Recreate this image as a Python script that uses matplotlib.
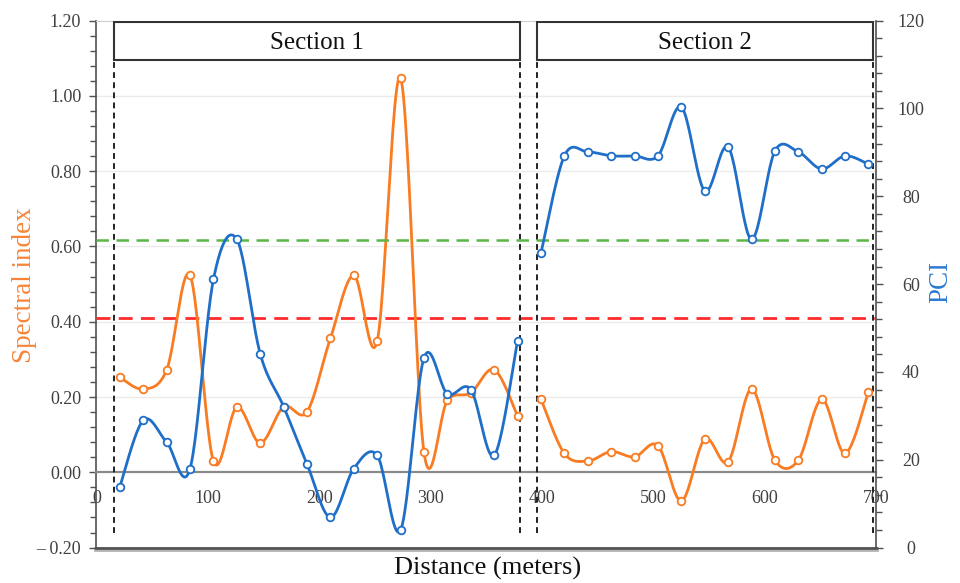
import numpy as np
import matplotlib.pyplot as plt
from matplotlib.ticker import MultipleLocator, FuncFormatter
from matplotlib.patches import Rectangle

plt.rcParams['font.family'] = ['Liberation Serif', 'DejaVu Serif']

# distances of the survey points (m)
dist_s1 = [21, 42, 63, 84, 105, 126, 147, 168, 189, 210, 231, 252, 273, 294, 315, 336, 357, 378]
dist_s2 = [399, 420, 441, 462, 483, 504, 525, 546, 567, 588, 609, 630, 651, 672, 693]

# spectral index (left axis)
spec_s1 = [0.252, 0.221, 0.272, 0.523, 0.030, 0.173, 0.078, 0.174, 0.161,
           0.356, 0.523, 0.349, 1.047, 0.053, 0.191, 0.211, 0.273, 0.150]
spec_s2 = [0.194, 0.050, 0.030, 0.055, 0.041, 0.071, -0.076, 0.088,
           0.028, 0.221, 0.032, 0.032, 0.194, 0.050, 0.214]

# PCI (right axis)
pci_s1 = [13.9, 29.0, 24.0, 18.0, 61.1, 70.2, 44.1, 32.1, 19.0,
          6.9, 18.0, 21.0, 4.0, 43.2, 35.0, 36.0, 21.0, 47.1]
pci_s2 = [67.1, 89.2, 90.1, 89.2, 89.2, 89.2, 100.3, 81.2,
          91.2, 70.2, 90.3, 90.1, 86.2, 89.2, 87.3]

spec_threshold = 0.41
pci_threshold = 70

sections = ['Section 1', 'Section 2']
section_bounds = [(15.7, 380.2), (395.4, 697.3)]

orange = '#F97B22'
blue = '#1F6FC8'
grey_txt = '#404040'


def smooth(x, y, n=24):
    # Catmull-Rom style smoothing, like a spreadsheet "smoothed line"
    x = np.asarray(x, float)
    y = np.asarray(y, float)
    xs, ys = [], []
    m = len(x)
    for i in range(m - 1):
        i0 = max(i - 1, 0)
        i3 = min(i + 2, m - 1)
        t = np.linspace(0, 1, n, endpoint=(i == m - 2))
        for arr, out in ((x, xs), (y, ys)):
            p0, p1, p2, p3 = arr[i0], arr[i], arr[i + 1], arr[i3]
            out.extend(0.5 * (2 * p1 + (-p0 + p2) * t
                              + (2 * p0 - 5 * p1 + 4 * p2 - p3) * t ** 2
                              + (-p0 + 3 * p1 - 3 * p2 + p3) * t ** 3))
    return np.array(xs), np.array(ys)


fig = plt.figure(figsize=(9.6, 5.83), dpi=100)
ax = fig.add_axes([0.1005, 0.0607, 0.8123, 0.904])
ax2 = ax.twinx()

ax.set_xlim(0, 700)
ax.set_ylim(-0.2, 1.2)
ax2.set_ylim(0, 120)

# gridlines
for g in [0.2, 0.4, 0.6, 0.8, 1.0]:
    ax.axhline(g, color='#EBEBEB', lw=1, zorder=0)

# spines
ax.spines['bottom'].set_position(('data', 0))
ax.spines['bottom'].set_color('#8A8A8A')
ax.spines['bottom'].set_linewidth(1.6)
ax.spines['top'].set_color('#CFCFCF')
ax.spines['right'].set_visible(False)
ax.spines['left'].set_color('#505050')
ax.spines['left'].set_linewidth(1.2)
for s in ['top', 'bottom', 'left']:
    ax2.spines[s].set_visible(False)
ax2.spines['right'].set_color('#505050')
ax2.spines['right'].set_linewidth(1.2)

# bottom frame line with a little shadow
ax.plot([0, 700], [-0.2035, -0.2035], color='#B5B5B5', lw=3.5, clip_on=False, zorder=1)
ax.plot([0, 700], [-0.2, -0.2], color='#555555', lw=2.0, clip_on=False, zorder=2)

# ticks
ax.set_xticks(range(0, 701, 100))
ax.tick_params(axis='x', length=0, pad=13, labelsize=13, labelcolor=grey_txt)
ax.yaxis.set_major_locator(MultipleLocator(0.2))
ax.yaxis.set_minor_locator(MultipleLocator(0.04))
ax.yaxis.set_major_formatter(FuncFormatter(
    lambda v, p: ('\u2013 %.2f' % abs(v)) if v < -1e-9 else '%.2f' % abs(v)))
ax.tick_params(axis='y', which='major', length=5, width=1, color='#505050',
               pad=6, labelsize=13, labelcolor=grey_txt)
ax.tick_params(axis='y', which='minor', length=4, width=1, color='#505050')

ax2.yaxis.set_major_locator(MultipleLocator(20))
ax2.yaxis.set_minor_locator(MultipleLocator(4))
ax2.tick_params(axis='y', which='major', length=5, width=1, color='#505050',
                pad=20, labelsize=13, labelcolor=grey_txt)
ax2.tick_params(axis='y', which='minor', length=4, width=1, color='#505050')
for lab in ax2.get_yticklabels():
    lab.set_horizontalalignment('center')

# threshold lines
ax.axhline(spec_threshold, color='#FF2A2A', lw=2, dashes=(5, 3), zorder=3)
ax2.axhline(pci_threshold, color='#5DB646', lw=1.8, dashes=(5, 3), zorder=1)

# section boxes and boundaries
for name, (x0, x1) in zip(sections, section_bounds):
    ax.add_patch(Rectangle((x0, 1.095), x1 - x0, 0.1, facecolor='white',
                           edgecolor='#333333', lw=1.5, zorder=6))
    ax.text((x0 + x1) / 2, 1.14, name, ha='center', va='center',
            fontsize=18, color='#111111', zorder=7)
    for xv in (x0, x1):
        ax.plot([xv, xv], [-0.16, 1.095], color='#222222', lw=1.4,
                dashes=(3, 2.2), zorder=4)

# data series
for d, s in ((dist_s1, spec_s1), (dist_s2, spec_s2)):
    sx, sy = smooth(d, s)
    ax.plot(sx, sy, color=orange, lw=2, zorder=5)
    ax.plot(d, s, 'o', color=orange, mfc='white', ms=5.5, mew=1.3, zorder=6)
for d, p in ((dist_s1, pci_s1), (dist_s2, pci_s2)):
    sx, sy = smooth(d, p)
    ax2.plot(sx, sy, color=blue, lw=2, zorder=5)
    ax2.plot(d, p, 'o', color=blue, mfc='white', ms=5.5, mew=1.3, zorder=6)

# axis titles
fig.text(25 / 960, 1 - 285 / 583, 'Spectral index', rotation=90, ha='center',
         va='center', fontsize=19.5, color='#F6853A')
fig.text(941 / 960, 1 - 282 / 583, 'PCI', rotation=90, ha='center',
         va='center', fontsize=19.5, color='#2B7BD0')
fig.text(488 / 960, 1 - 568 / 583, 'Distance (meters)', ha='center',
         va='center', fontsize=19, color='#111111')

fig.savefig('out.png', dpi=100)
